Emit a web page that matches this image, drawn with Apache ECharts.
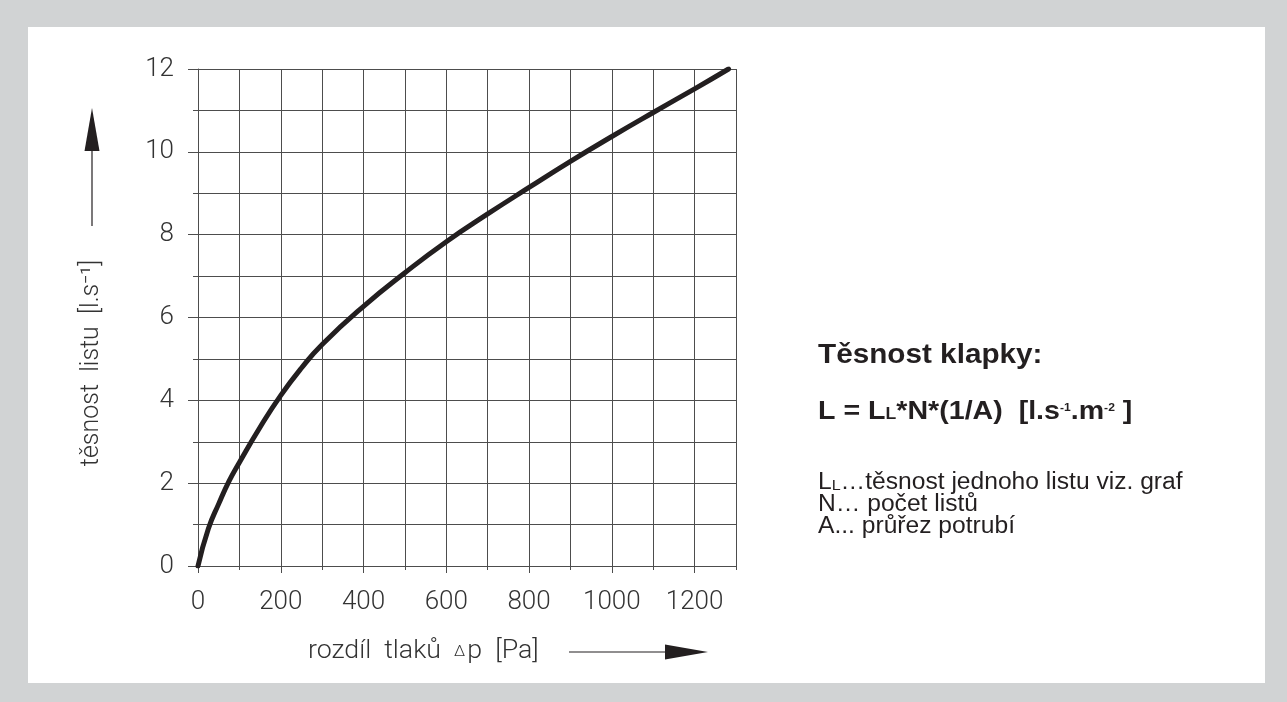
<!DOCTYPE html>
<html>
<head>
<meta charset="utf-8">
<script src="https://cdn.jsdelivr.net/npm/echarts@6/dist/echarts.min.js"></script>
<style>
  html, body { margin: 0; padding: 0; width: 1287px; height: 702px; background: #d1d3d4; overflow: hidden; }
  #panel { position: absolute; left: 28px; top: 27px; width: 1237px; height: 656px; background: #ffffff; }
  #chart { position: absolute; left: 0; top: 0; width: 1287px; height: 702px; }
</style>
</head>
<body>
<div id="panel"></div>
<div id="chart"></div>
<script>
// ---- data ----
const pressure = [0, 25, 50, 75, 100, 150, 200, 250, 300, 400, 500, 600, 700, 800, 900, 1000, 1100, 1200, 1282];
const leakage  = [0, 0.9, 1.5, 2.05, 2.5, 3.35, 4.12, 4.78, 5.35, 6.27, 7.08, 7.83, 8.5, 9.14, 9.77, 10.37, 10.95, 11.52, 12.0];

const xLabelTicks = [0, 200, 400, 600, 800, 1000, 1200];
const xMinorTicks = [100, 300, 500, 700, 900, 1100, 1300];
const yLabelTicks = [0, 2, 4, 6, 8, 10, 12];
const yMinorTicks = [1, 3, 5, 7, 9, 11];

const xTitleA = 'rozdíl  tlaků  ';
const xTitleDelta = '∆';
const xTitleB = 'p  [Pa]';
const yTitle = 'těsnost  listu  [l.s⁻¹]';
const boxTitle = 'Těsnost klapky:';
const boxLines = ['N… počet listů', 'A... průřez potrubí'];

// ---- chart ----
const FONT = 'Roboto, "DejaVu Sans", sans-serif';
const SANS = '"Liberation Sans", Arial, sans-serif';
const AX = '#4d4d4d';
const chart = echarts.init(document.getElementById('chart'), null, { renderer: 'canvas' });

const pts = pressure.map((p, i) => [p, leakage[i]]);
const plain = v => String(v);

const option = {
  backgroundColor: 'transparent',
  animation: false,
  grid: { left: 198, top: 69, width: 538, height: 497, containLabel: false },
  xAxis: [
    { type: 'value', min: 0, max: 1300, interval: 100,
      axisLine: { show: false }, axisTick: { show: false }, axisLabel: { show: false },
      splitLine: { show: true, lineStyle: { color: AX, width: 1 } } },
    { type: 'value', position: 'bottom', offset: 10, min: 0, max: 1300,
      axisLine: { show: true, lineStyle: { color: AX, width: 1 } },
      axisTick: { show: true, customValues: xLabelTicks, length: 7, lineStyle: { color: AX } },
      axisLabel: { show: true, customValues: xLabelTicks, formatter: plain, margin: 13, fontFamily: FONT, fontWeight: 300, fontSize: 26, color: '#333' },
      splitLine: { show: false } },
    { type: 'value', position: 'bottom', offset: 10, min: 0, max: 1300,
      axisLine: { show: false },
      axisTick: { show: true, customValues: xMinorTicks, length: 4, lineStyle: { color: AX } },
      axisLabel: { show: false }, splitLine: { show: false } }
  ],
  yAxis: [
    { type: 'value', min: 0, max: 12, interval: 1,
      axisLine: { show: false }, axisTick: { show: false }, axisLabel: { show: false },
      splitLine: { show: true, lineStyle: { color: AX, width: 1 } } },
    { type: 'value', position: 'left', offset: 8, min: 0, max: 12,
      axisLine: { show: true, lineStyle: { color: AX, width: 1 } },
      axisTick: { show: true, customValues: yLabelTicks, length: 10, lineStyle: { color: AX } },
      axisLabel: { show: true, customValues: yLabelTicks, formatter: plain, margin: 16, fontFamily: FONT, fontWeight: 300, fontSize: 26, color: '#333' },
      splitLine: { show: false } },
    { type: 'value', position: 'left', offset: 8, min: 0, max: 12,
      axisLine: { show: false },
      axisTick: { show: true, customValues: yMinorTicks, length: 5, lineStyle: { color: AX } },
      axisLabel: { show: false }, splitLine: { show: false } }
  ],
  series: [{
    type: 'line', xAxisIndex: 0, yAxisIndex: 0, data: pts,
    smooth: 0.5, symbol: 'none',
    lineStyle: { color: '#231f20', width: 5, cap: 'round', join: 'round' }, z: 5
  }],
  graphic: [
    // y title + arrow
    { type: 'text', x: 92, y: 363, rotation: Math.PI / 2,
      style: { text: yTitle, font: '300 25px ' + FONT, fill: '#333', align: 'center', verticalAlign: 'middle' } },
    { type: 'line', shape: { x1: 92, y1: 226, x2: 92, y2: 148 }, style: { stroke: '#231f20', lineWidth: 1.2 } },
    { type: 'polygon', shape: { points: [[92, 108], [84.5, 151], [99.5, 151]] }, style: { fill: '#231f20' } },
    // x title + arrow
    { type: 'text', x: 308, y: 652, scaleX: 1.07,
      style: {
        text: '{a|' + xTitleA + '}{d|' + xTitleDelta + '}{a|' + xTitleB + '}',
        align: 'left', verticalAlign: 'middle',
        rich: {
          a: { font: '300 25px ' + FONT, fill: '#333', lineHeight: 28 },
          d: { font: '300 15px ' + FONT, fill: '#333', lineHeight: 15, verticalAlign: 'bottom', padding: [0, 2, 6, 0] }
        }
      } },
    { type: 'line', shape: { x1: 569, y1: 652, x2: 668, y2: 652 }, style: { stroke: '#231f20', lineWidth: 1.2 } },
    { type: 'polygon', shape: { points: [[708, 652], [665, 644.5], [665, 659.5]] }, style: { fill: '#231f20' } },
    // right text block
    { type: 'text', x: 818, y: 356, scaleX: 1.1,
      style: { text: boxTitle, font: 'bold 27px ' + SANS, fill: '#231f20', verticalAlign: 'middle' } },
    { type: 'text', x: 818, y: 412, scaleX: 1.1,
      style: {
        text: '{a|L = L}{s|L}{a|*N*(1/A)  [l.s}{p|-1}{a|.m}{p|-2}{a| ]}',
        verticalAlign: 'middle',
        rich: {
          a: { font: 'bold 26px ' + SANS, fill: '#231f20', lineHeight: 30 },
          s: { font: 'bold 16px ' + SANS, fill: '#231f20', lineHeight: 16, verticalAlign: 'bottom', padding: [0, 0, 4, 0] },
          p: { font: 'bold 11px ' + SANS, fill: '#231f20', lineHeight: 11, verticalAlign: 'top', padding: [5, 0, 0, 0] }
        }
      } },
    { type: 'text', x: 818, y: 483, scaleX: 1.07,
      style: {
        text: '{a|L}{s|L}{a|…těsnost jednoho listu viz. graf}',
        verticalAlign: 'middle',
        rich: {
          a: { font: '23px ' + SANS, fill: '#231f20', lineHeight: 24 },
          s: { font: '15px ' + SANS, fill: '#231f20', lineHeight: 15, verticalAlign: 'bottom', padding: [0, 0, 2, 0] }
        }
      } },
    { type: 'text', x: 818, y: 505, scaleX: 1.07,
      style: { text: boxLines[0], font: '23px ' + SANS, fill: '#231f20', verticalAlign: 'middle' } },
    { type: 'text', x: 818, y: 527, scaleX: 1.07,
      style: { text: boxLines[1], font: '23px ' + SANS, fill: '#231f20', verticalAlign: 'middle' } }
  ]
};
chart.setOption(option);
</script>
</body>
</html>
